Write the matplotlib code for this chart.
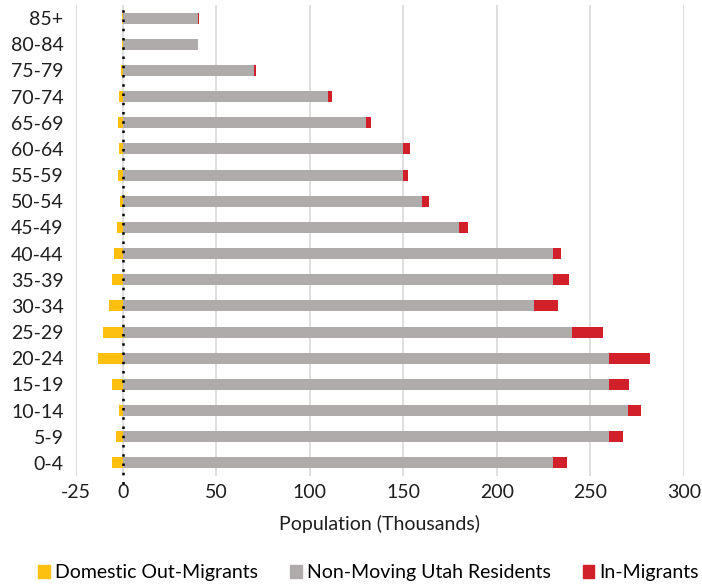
import matplotlib
matplotlib.use("Agg")
import matplotlib.pyplot as plt
from matplotlib.patches import Patch
import numpy as np

plt.rcParams['font.family'] = ['Lato', 'DejaVu Sans']

age_groups = ["0-4", "5-9", "10-14", "15-19", "20-24", "25-29", "30-34", "35-39",
              "40-44", "45-49", "50-54", "55-59", "60-64", "65-69", "70-74",
              "75-79", "80-84", "85+"]
out_migrants = [-5.6, -3.4, -2.2, -6.0, -13.2, -10.8, -7.2, -5.9, -4.5,
                -3.1, -1.7, -2.6, -2.0, -2.4, -1.9, -1.0, -0.3, -0.4]
non_movers = [230, 260, 270, 260, 260, 240, 220, 230, 230,
              180, 160, 150, 150, 130, 110, 70, 40, 40]
in_migrants = [7.8, 7.7, 6.9, 10.9, 21.9, 16.8, 12.8, 8.7, 4.3,
               4.5, 4.0, 2.7, 3.8, 2.6, 1.9, 1.1, 0.3, 0.7]
x_ticks = [-25, 0, 50, 100, 150, 200, 250, 300]

c_out = "#FDC010"
c_non = "#AFABAB"
c_in = "#D1202A"
txt = "#1E1E1E"
fs = 14.0

fig = plt.figure(figsize=(7.02, 5.86), dpi=100)
ax = fig.add_axes([0.1083, 0.1877, 0.8658, 0.8038])

y = np.arange(len(age_groups))
h = 0.42
ax.barh(y, out_migrants, height=h, color=c_out, zorder=3)
ax.barh(y, non_movers, height=h, color=c_non, zorder=3)
ax.barh(y, in_migrants, left=non_movers, height=h, color=c_in, zorder=3)

# zero reference line, running slightly below the plot area
ax.plot([0, 0], [-0.8, len(age_groups) - 0.5], color="black", lw=1.8,
        linestyle=(0, (1, 2.7)), zorder=4, clip_on=False)

ax.set_xlim(-25, 300)
ax.set_ylim(-0.5, len(age_groups) - 0.5)
ax.set_xticks(x_ticks)
ax.set_xticklabels([str(t) for t in x_ticks], fontsize=fs, color=txt)
ax.set_yticks(y)
ax.set_yticklabels(age_groups, fontsize=fs, color=txt)
ax.tick_params(axis="both", length=0)
ax.tick_params(axis="y", pad=9)
ax.tick_params(axis="x", pad=6)
ax.grid(axis="x", color="#D9D9D9", lw=1.2, zorder=0)
for s in ax.spines.values():
    s.set_visible(False)

ax.set_xlabel("Population (Thousands)", fontsize=fs, color=txt, labelpad=10)

handles = [Patch(color=c_out), Patch(color=c_non), Patch(color=c_in)]
labels = ["Domestic Out-Migrants", "Non-Moving Utah Residents", "In-Migrants"]
fig.legend(handles, labels, loc="lower center", bbox_to_anchor=(0.525, -0.022),
           ncol=3, frameon=False, fontsize=fs, handlelength=0.6,
           handleheight=0.6, handletextpad=0.25, columnspacing=1.65)

fig.savefig("out.png", dpi=100)
